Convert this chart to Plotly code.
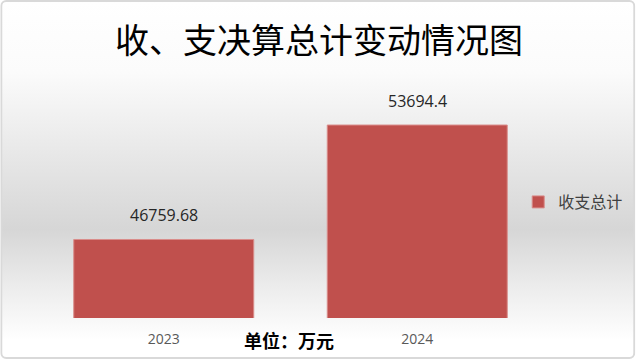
import base64
import plotly.graph_objects as go

categories = ["2023", "2024"]
values = [46759.68, 53694.4]
value_labels = ["46759.68", "53694.4"]
series_name = "收支总计"
title_text = "收、支决算总计变动情况图"
unit_text = "单位：万元"

W, H = 640, 359
ml, mr, mt, mb = 37, 92, 87, 41
pw, ph = W - ml - mr, H - mt - mb

svg = f'''<svg xmlns="http://www.w3.org/2000/svg" width="{W}" height="{H}" viewBox="0 0 {W} {H}" preserveAspectRatio="none">
<defs><linearGradient id="g" x1="0" y1="0" x2="0" y2="1">
<stop offset="0" stop-color="#ffffff"/>
<stop offset="0.2" stop-color="#fbfbfb"/>
<stop offset="0.64" stop-color="#d6d6d6"/>
<stop offset="0.8" stop-color="#ececec"/>
<stop offset="0.95" stop-color="#ffffff"/>
<stop offset="1" stop-color="#ffffff"/>
</linearGradient></defs>
<rect x="1" y="1" width="{W-2}" height="{H-2}" rx="5" ry="5" fill="url(#g)" stroke="#d9d9d9" stroke-width="2"/>
</svg>'''
bg_uri = "data:image/svg+xml;base64," + base64.b64encode(svg.encode("utf-8")).decode()

fig = go.Figure()
fig.add_trace(go.Bar(
    x=categories, y=values, name=series_name,
    marker=dict(color="#C0504D", line=dict(color="#d98c8a", width=1)),
    showlegend=True, hoverinfo="skip",
))

for i, (v, t) in enumerate(zip(values, value_labels)):
    fig.add_annotation(x=i, y=v, xref="x", yref="y", text=t, showarrow=False,
                       yanchor="bottom", yshift=11,
                       font=dict(family="Open Sans, Liberation Sans, sans-serif", size=16, color="#262626"))

fig.add_annotation(xref="paper", yref="paper", x=(291 - ml) / pw, y=-(340 - (H - mb)) / ph,
                   text=f"<b>{unit_text}</b>", showarrow=False, yanchor="middle", xanchor="center",
                   font=dict(family="Noto Sans CJK SC", size=18, color="#000000"))

fig.add_layout_image(dict(source=bg_uri, xref="paper", yref="paper",
                          x=-ml / pw, y=1 + mt / ph, sizex=W / pw, sizey=H / ph,
                          xanchor="left", yanchor="top", sizing="stretch", layer="below"))

fig.update_layout(
    width=W, height=H,
    margin=dict(l=ml, r=mr, t=mt, b=mb),
    paper_bgcolor="white", plot_bgcolor="rgba(0,0,0,0)",
    title=dict(text=title_text, x=319 / W, xref="container", xanchor="center",
               y=1 - 41 / H, yref="container", yanchor="middle",
               font=dict(family="Noto Sans CJK SC", size=34, color="#000000")),
    bargap=0.29,
    xaxis=dict(type="category", range=[-0.5, 1.5], autorange=False, fixedrange=True,
               showgrid=False, showline=False, zeroline=False, ticks="",
               tickfont=dict(family="Open Sans, Liberation Sans, sans-serif", size=14, color="#595959"),
               ticklabelstandoff=11),
    yaxis=dict(range=[42000, 56000], autorange=False, fixedrange=True, visible=False, showgrid=False),
    legend=dict(x=(522 - ml) / pw, y=(H - mb - 202) / ph, xanchor="left", yanchor="middle",
                bgcolor="rgba(0,0,0,0)",
                font=dict(family="Noto Sans CJK SC", size=16, color="#404040")),
)

fig.write_html("out.html", config={"displayModeBar": False},
               post_script="document.body.style.margin='0';")
